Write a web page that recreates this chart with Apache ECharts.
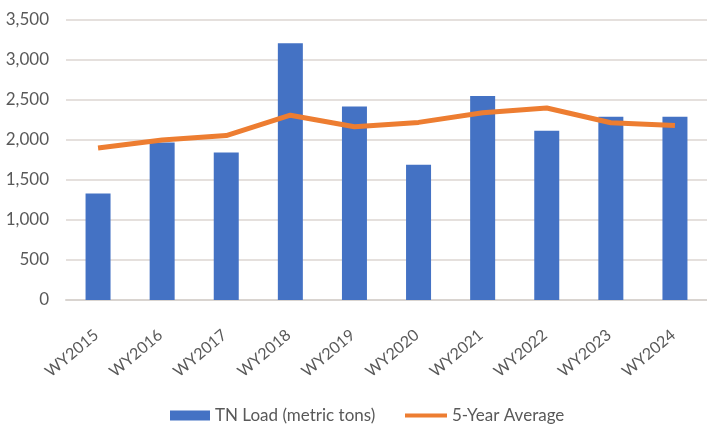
<!DOCTYPE html>
<html>
<head>
<meta charset="utf-8">
<script src="https://cdn.jsdelivr.net/npm/echarts@6/dist/echarts.min.js"></script>
<style>html,body{margin:0;padding:0;background:#fff}#c{width:707px;height:429px}</style>
</head>
<body>
<div id="c"></div>
<script>
const categories = ['WY2015','WY2016','WY2017','WY2018','WY2019','WY2020','WY2021','WY2022','WY2023','WY2024'];
const tnLoad = [1330, 1970, 1845, 3210, 2420, 1690, 2550, 2115, 2290, 2290];
const fiveYearAvg = [1900, 2000, 2055, 2310, 2165, 2220, 2340, 2400, 2215, 2180];
const yTicks = [0, 500, 1000, 1500, 2000, 2500, 3000, 3500];

const FONT = 'Lato, "Open Sans", sans-serif';
const chart = echarts.init(document.getElementById('c'), null, {renderer: 'canvas'});
chart.setOption({
  animation: false,
  backgroundColor: '#fff',
  textStyle: {fontFamily: FONT},
  grid: {left: 66, top: 20, width: 645, height: 280, containLabel: false},
  legend: [
    {
      left: 170, top: 407, padding: 0,
      textStyle: {fontFamily: FONT, fontSize: 17, color: '#595959'},
      data: [{name: 'TN Load (metric tons)', icon: 'rect'}],
      itemWidth: 40, itemHeight: 10, itemGap: 4
    },
    {
      left: 405, top: 407, padding: 0,
      textStyle: {fontFamily: FONT, fontSize: 17, color: '#595959'},
      data: [{name: '5-Year Average', icon: 'rect', itemStyle: {color: '#ED7D31'}}],
      itemWidth: 42, itemHeight: 4
    }
  ],
  xAxis: {
    type: 'category',
    data: categories,
    axisLine: {lineStyle: {color: '#d9d4d0', width: 2}},
    axisTick: {show: false},
    axisLabel: {rotate: 40, fontSize: 16, color: '#595959', fontFamily: FONT, margin: 21, verticalAlign: 'top', padding: [0, 9, 0, 0]}
  },
  yAxis: {
    type: 'value',
    min: yTicks[0], max: yTicks[yTicks.length - 1], interval: 500,
    axisLine: {show: false},
    axisTick: {show: false},
    splitLine: {lineStyle: {color: '#dcd6d2', width: 1.5}},
    axisLabel: {
      fontSize: 17, color: '#595959', fontFamily: FONT, margin: 17,
      formatter: v => v.toLocaleString('en-US')
    }
  },
  series: [
    {
      name: 'TN Load (metric tons)', type: 'bar', data: tnLoad,
      barWidth: 25,
      itemStyle: {color: '#4472C4'}
    },
    {
      name: '5-Year Average', type: 'line', data: fiveYearAvg,
      symbol: 'none',
      lineStyle: {color: '#ED7D31', width: 5},
      itemStyle: {color: '#ED7D31'}
    }
  ]
});
</script>
</body>
</html>
